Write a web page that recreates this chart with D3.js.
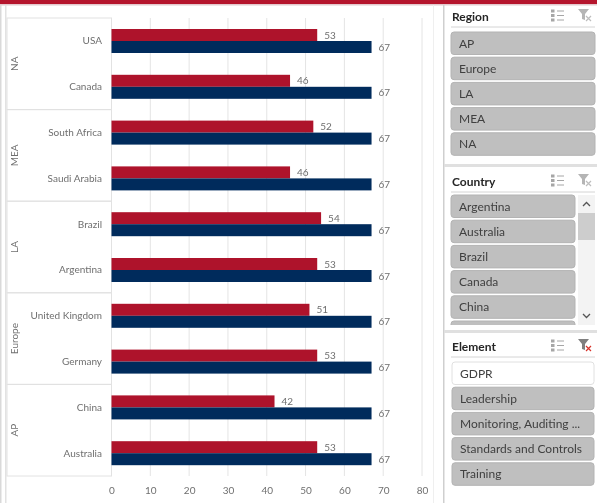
<!DOCTYPE html>
<html>
<head>
<meta charset="utf-8">
<script src="https://cdn.jsdelivr.net/npm/d3@7"></script>
<style>
  html, body { margin: 0; padding: 0; background: #fff; overflow: hidden; }
  svg { display: block; font-family: Lato, "Open Sans", sans-serif; filter: blur(0.4px); }
</style>
</head>
<body>
<svg id="chart" width="597" height="503"></svg>
<script>
const countries = ["USA", "Canada", "South Africa", "Saudi Arabia", "Brazil", "Argentina", "United Kingdom", "Germany", "China", "Australia"];
const regions = ["NA", "MEA", "LA", "Europe", "AP"];
const regionSizes = [2, 2, 2, 2, 2];
const redValues = [53, 46, 52, 46, 54, 53, 51, 53, 42, 53];
const blueValues = [67, 67, 67, 67, 67, 67, 67, 67, 67, 67];
const xTicks = [0, 10, 20, 30, 40, 50, 60, 70, 80];

const regionItems = ["AP", "Europe", "LA", "MEA", "NA"];
const countryItems = ["Argentina", "Australia", "Brazil", "Canada", "China", ""];
const elementItems = ["GDPR", "Leadership", "Monitoring, Auditing ...", "Standards and Controls", "Training"];

const svg = d3.select("#chart");

// window frame
svg.append("rect").attr("x", 0).attr("y", 0).attr("width", 597).attr("height", 4).attr("fill", "#b5152d");
svg.append("rect").attr("x", 0).attr("y", 4).attr("width", 597).attr("height", 1.5).attr("fill", "#e3c9cd");
svg.append("rect").attr("x", 0).attr("y", 5).attr("width", 1.5).attr("height", 498).attr("fill", "#d9d9d9");
svg.append("rect").attr("x", 5).attr("y", 5).attr("width", 1.5).attr("height", 498).attr("fill", "#e2e2e2");

/*******************************************
*****************Bar chart******************
********************************************/
const xScale = d3.scaleLinear().domain([0, 80]).range([111.5, 422]);
const yScale = d3.scaleBand().domain(countries).range([18, 476]);
const seriesScale = d3.scaleBand().domain(["red", "blue"]).range([11, 35]);

// gridlines
svg.append("g")
    .selectAll("line")
    .data(xTicks)
    .enter()
    .append("line")
    .attr("x1", d => xScale(d))
    .attr("x2", d => xScale(d))
    .attr("y1", 18)
    .attr("y2", 476)
    .attr("stroke", "#e4e4e4")
    .attr("stroke-width", 1);

// x axis
svg.append("g")
    .attr("transform", "translate(0,476)")
    .style("font", "10px Lato")
    .call(d3.axisBottom(xScale).tickValues(xTicks).tickSize(0).tickPadding(10.5))
    .call(g => g.select(".domain").remove())
    .selectAll("text").attr("fill", "#6f6f6f");

// region cells on the left
let rowStart = 0;
const regionCells = regions.map((r, i) => {
    let cell = {name: r, first: countries[rowStart], last: countries[rowStart + regionSizes[i] - 1]};
    rowStart += regionSizes[i];
    return cell;
});

const cells = svg.append("g").selectAll("g").data(regionCells).enter().append("g");
cells.append("rect")
    .attr("x", 7)
    .attr("y", d => yScale(d.first))
    .attr("width", 104.5)
    .attr("height", d => yScale(d.last) + yScale.bandwidth() - yScale(d.first))
    .attr("fill", "none")
    .attr("stroke", "#e2e2e2");
cells.append("text")
    .attr("transform", d => {
        let mid = (yScale(d.first) + yScale(d.last) + yScale.bandwidth()) / 2;
        return "translate(14.5," + mid + ") rotate(-90)";
    })
    .attr("text-anchor", "middle")
    .attr("dy", "0.35em")
    .attr("font-size", 10)
    .attr("fill", "#6f6f6f")
    .text(d => d.name);

// country labels
svg.append("g")
    .selectAll("text")
    .data(countries)
    .enter()
    .append("text")
    .attr("x", 102)
    .attr("y", d => yScale(d) + yScale.bandwidth() / 2)
    .attr("dy", "0.35em")
    .attr("text-anchor", "end")
    .attr("font-size", 10)
    .attr("fill", "#6f6f6f")
    .text(d => d);

// bars and their labels
const series = [
    {key: "red", values: redValues, color: "#ae132b"},
    {key: "blue", values: blueValues, color: "#002b5c"}
];
series.forEach(s => {
    svg.append("g")
        .selectAll("rect")
        .data(s.values)
        .enter()
        .append("rect")
        .attr("x", xScale(0))
        .attr("y", (d, i) => yScale(countries[i]) + seriesScale(s.key))
        .attr("width", d => xScale(d) - xScale(0))
        .attr("height", seriesScale.bandwidth())
        .attr("fill", s.color);
    svg.append("g")
        .selectAll("text")
        .data(s.values)
        .enter()
        .append("text")
        .attr("x", d => xScale(d) + 7)
        .attr("y", (d, i) => yScale(countries[i]) + seriesScale(s.key) + seriesScale.bandwidth() / 2)
        .attr("dy", "0.35em")
        .attr("font-size", 10)
        .attr("fill", "#6f6f6f")
        .text(d => d);
});

/*******************************************
*******************Slicers******************
********************************************/
svg.append("rect").attr("x", 443).attr("y", 5).attr("width", 1.5).attr("height", 498).attr("fill", "#cfcfcf");
svg.append("rect").attr("x", 433).attr("y", 5).attr("width", 1).attr("height", 498).attr("fill", "#efefef");

function drawSlicer(title, items, top, buttonTop, left, right, active, clearRed) {
    let g = svg.append("g");
    g.append("text")
        .attr("x", 452)
        .attr("y", top + 20.5)
        .attr("font-size", 12)
        .attr("font-weight", 700)
        .attr("fill", "#262626")
        .text(title);
    g.append("line")
        .attr("x1", 451).attr("x2", 595)
        .attr("y1", top + 27).attr("y2", top + 27)
        .attr("stroke", "#d4d4d4");

    // multi select icon
    [0, 1, 2].forEach(i => {
        g.append("line")
            .attr("x1", 557).attr("x2", 564)
            .attr("y1", top + 11 + i * 4.5).attr("y2", top + 11 + i * 4.5)
            .attr("stroke", "#a6a6a6");
        g.append("rect")
            .attr("x", 551).attr("y", top + 9.5 + i * 4.5)
            .attr("width", 3.5).attr("height", 3)
            .attr("fill", "#a6a6a6");
    });
    // clear filter icon
    g.append("path")
        .attr("d", "M578 " + (top + 9) + "h11l-4 5v6l-3 -1v-5z")
        .attr("fill", clearRed ? "#7f7f7f" : "#b5b5b5");
    g.append("path")
        .attr("d", "M586 " + (top + 16) + "l5 5m0 -5l-5 5")
        .attr("stroke", clearRed ? "#d8322a" : "#bdbdbd")
        .attr("stroke-width", 1.2);

    let step = 25.2;
    let clipId = "clip" + title;
    g.append("clipPath").attr("id", clipId)
        .append("rect").attr("x", left - 1).attr("y", top + 29).attr("width", right - left + 2).attr("height", 131);
    let rows = g.append("g").attr("clip-path", "url(#" + clipId + ")")
        .selectAll("g").data(items).enter().append("g")
        .attr("transform", (d, i) => "translate(0," + (buttonTop + i * step) + ")");
    rows.append("rect")
        .attr("x", left).attr("y", 0)
        .attr("width", right - left).attr("height", 22.5)
        .attr("rx", 3)
        .attr("fill", d => active.includes(d) ? "#ffffff" : "#bfbfbf")
        .attr("stroke", d => active.includes(d) ? "#e0e0e0" : "#b3b3b3");
    rows.append("text")
        .attr("x", left + 8)
        .attr("y", 11.5)
        .attr("dy", "0.35em")
        .attr("font-size", 12)
        .attr("fill", "#404040")
        .text(d => d);
}

drawSlicer("Region", regionItems, 0, 32, 451, 595, [], false);
drawSlicer("Country", countryItems, 165, 195, 451, 575, [], false);
drawSlicer("Element", elementItems, 330, 362, 452, 594, ["GDPR"], true);

// panel separators
svg.append("rect").attr("x", 444).attr("y", 164).attr("width", 153).attr("height", 3).attr("fill", "#e0e0e0");
svg.append("rect").attr("x", 444).attr("y", 330).attr("width", 153).attr("height", 3).attr("fill", "#e0e0e0");

// country scrollbar
svg.append("rect").attr("x", 578).attr("y", 195).attr("width", 17).attr("height", 130).attr("fill", "#f3f3f3");
svg.append("rect").attr("x", 578).attr("y", 213).attr("width", 17).attr("height", 27).attr("fill", "#cdcdcd");
svg.append("path").attr("d", "M583 206l3.5 -3.5l3.5 3.5").attr("fill", "none").attr("stroke", "#555").attr("stroke-width", 1.3);
svg.append("path").attr("d", "M583 314l3.5 3.5l3.5 -3.5").attr("fill", "none").attr("stroke", "#555").attr("stroke-width", 1.3);
</script>
</body>
</html>
